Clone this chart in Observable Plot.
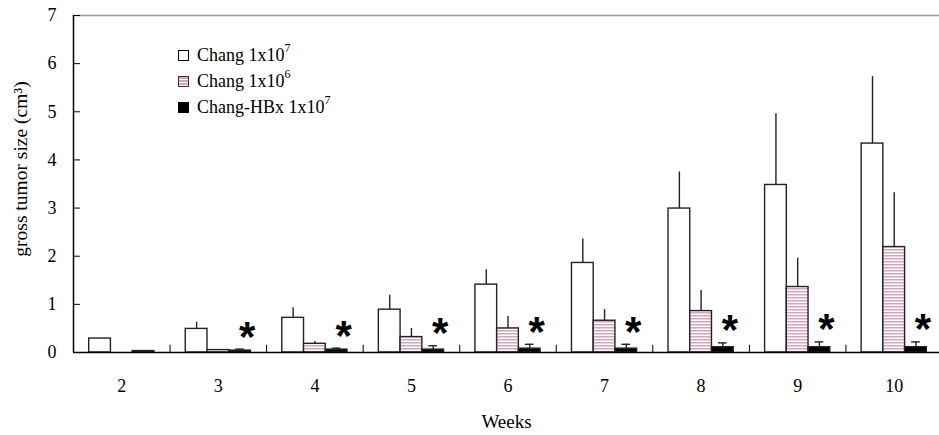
<!DOCTYPE html>
<html><head><meta charset="utf-8">
<script src="https://cdn.jsdelivr.net/npm/d3@7"></script>
<script src="https://cdn.jsdelivr.net/npm/@observablehq/plot@0.6"></script>
<style>
body{margin:0;background:#fff;}
#wrap{position:relative;width:939px;height:435px;font-family:"Liberation Serif","Times New Roman",serif;}
#legend{position:absolute;left:178px;top:42px;font-size:18px;color:#000;line-height:1;}
.row{display:flex;align-items:center;height:26px;}
.sw{width:11px;height:11px;border:1px solid #000;margin-right:8px;box-sizing:border-box;}
.sw.pink{background:repeating-linear-gradient(to bottom,#d6a3c0 0,#d6a3c0 1.5px,#fff 1.5px,#fff 3px);border-color:#333;}
.sw.black{background:#000;}
sup{font-size:12px;position:relative;top:-4px;vertical-align:top;}
</style></head><body><div id="wrap"><div id="legend"></div></div>
<script>
// ---- data ----
const weeks = [2, 3, 4, 5, 6, 7, 8, 9, 10];
const seriesNames = ["Chang 1x10^7", "Chang 1x10^6", "Chang-HBx 1x10^7"];
const chang1e7    = [0.29, 0.49, 0.72, 0.89, 1.41, 1.86, 2.99, 3.48, 4.34];
const chang1e7Err = [0.00, 0.14, 0.21, 0.30, 0.31, 0.50, 0.76, 1.48, 1.39];
const chang1e6    = [0.00, 0.05, 0.18, 0.32, 0.50, 0.66, 0.86, 1.36, 2.19];
const chang1e6Err = [0.00, 0.00, 0.05, 0.18, 0.25, 0.23, 0.43, 0.60, 1.13];
const hbx1e7      = [0.03, 0.04, 0.06, 0.06, 0.08, 0.08, 0.11, 0.11, 0.11];
const hbx1e7Err   = [0.00, 0.03, 0.03, 0.08, 0.09, 0.09, 0.09, 0.11, 0.11];
const starLabels  = ["", "*", "*", "*", "*", "*", "*", "*", "*"];
const yTicks = [0, 1, 2, 3, 4, 5, 6, 7];
const yLabel = "gross tumor size (cm³)";
const xLabel = "Weeks";

// ---- table ----
const values = [chang1e7, chang1e6, hbx1e7];
const errs = [chang1e7Err, chang1e6Err, hbx1e7Err];
const fills = ["#fff", "url(#stripes)", "#000"];
const bw = 0.225; // bar width in week units
const rows = [];
weeks.forEach((w, j) => values.forEach((v, i) => rows.push({
  week: w, s: i, name: seriesNames[i], value: v[j], err: errs[i][j],
  x1: w + (i - 1.5) * bw, x2: w + (i - 0.5) * bw, xc: w + (i - 1) * bw
})));
const stars = weeks.map((w, j) => ({week: w, label: starLabels[j], top: hbx1e7[j] + hbx1e7Err[j]})).filter(d => d.label);
const boundaries = weeks.slice(1).map(w => w - 0.5);
const serif = '"Liberation Serif","Times New Roman",serif';

const chart = Plot.plot({
  width: 939, height: 435,
  marginLeft: 73, marginRight: 0, marginTop: 15, marginBottom: 83,
  style: {fontFamily: serif, fontSize: "18px", color: "#000", background: "#fff"},
  x: {domain: [1.5, 10.5], range: [73, 942]},
  y: {domain: [0, 7]},
  marks: [
    Plot.ruleY([7], {x1: 1.5, x2: 10.5, stroke: "#999", strokeWidth: 1.5}),
    Plot.rectY(rows.filter(d => d.value > 0), {x1: "x1", x2: "x2", y1: 0, y2: "value",
      fill: d => fills[d.s], stroke: "#222", strokeWidth: 1.4}),
    Plot.ruleX(rows.filter(d => d.err > 0), {x: "xc", y1: "value", y2: d => d.value + d.err, stroke: "#222", strokeWidth: 1.4}),
    Plot.ruleY(rows.filter(d => d.s === 2 && d.err > 0), {y: d => d.value + d.err, x1: d => d.xc - 0.045, x2: d => d.xc + 0.045, stroke: "#222", strokeWidth: 1.4}),
    Plot.ruleY([0], {x1: 1.5, x2: 10.5, stroke: "#000", strokeWidth: 1.5}),
    Plot.ruleX([1.5], {y1: 0, y2: 7, stroke: "#000", strokeWidth: 1.5}),
    Plot.ruleY(yTicks, {x1: 1.5, x2: 1.5 + 7 / 96.6, stroke: "#000", strokeWidth: 1}),
    Plot.ruleX(boundaries, {y1: 0, y2: 0.15, stroke: "#000", strokeWidth: 1}),
    Plot.axisY({ticks: yTicks, tickSize: 0, tickPadding: 17, tickFormat: d => String(d), fontSize: 18, fontFamily: serif}),
    Plot.axisX({ticks: weeks, tickSize: 0, tickPadding: 27, tickFormat: d => String(d), fontSize: 18, fontFamily: serif}),
    Plot.text(stars, {x: d => d.week + bw, dx: 7, y: "top", text: "label", dy: -12,
      fontFamily: '"Liberation Sans",Arial,sans-serif', fontWeight: "bold", fontSize: 42, fill: "#000"}),
    Plot.text([xLabel], {frameAnchor: "bottom", dy: 75, fontSize: 19, fontFamily: serif}),
    Plot.text([yLabel], {frameAnchor: "left", textAnchor: "middle", rotate: -90, dx: -53, dy: -15, fontSize: 19.5, fontFamily: serif})
  ]
});

const defs = document.createElementNS("http://www.w3.org/2000/svg", "defs");
defs.innerHTML = '<pattern id="stripes" width="4" height="3" patternUnits="userSpaceOnUse"><rect width="4" height="3" fill="#fff"/><rect width="4" height="1.5" fill="#d6a3c0"/></pattern>';
chart.insertBefore(defs, chart.firstChild);
const wrap = document.getElementById("wrap");
wrap.insertBefore(chart, wrap.firstChild);

// legend
const legendHTML = [
  ["", "Chang 1x10", "7"],
  ["pink", "Chang 1x10", "6"],
  ["black", "Chang-HBx 1x10", "7"]
].map(([cls, t, e]) => `<div class="row"><div class="sw ${cls}"></div><span>${t}<sup>${e}</sup></span></div>`).join("");
document.getElementById("legend").innerHTML = legendHTML;
</script>
</body></html>
